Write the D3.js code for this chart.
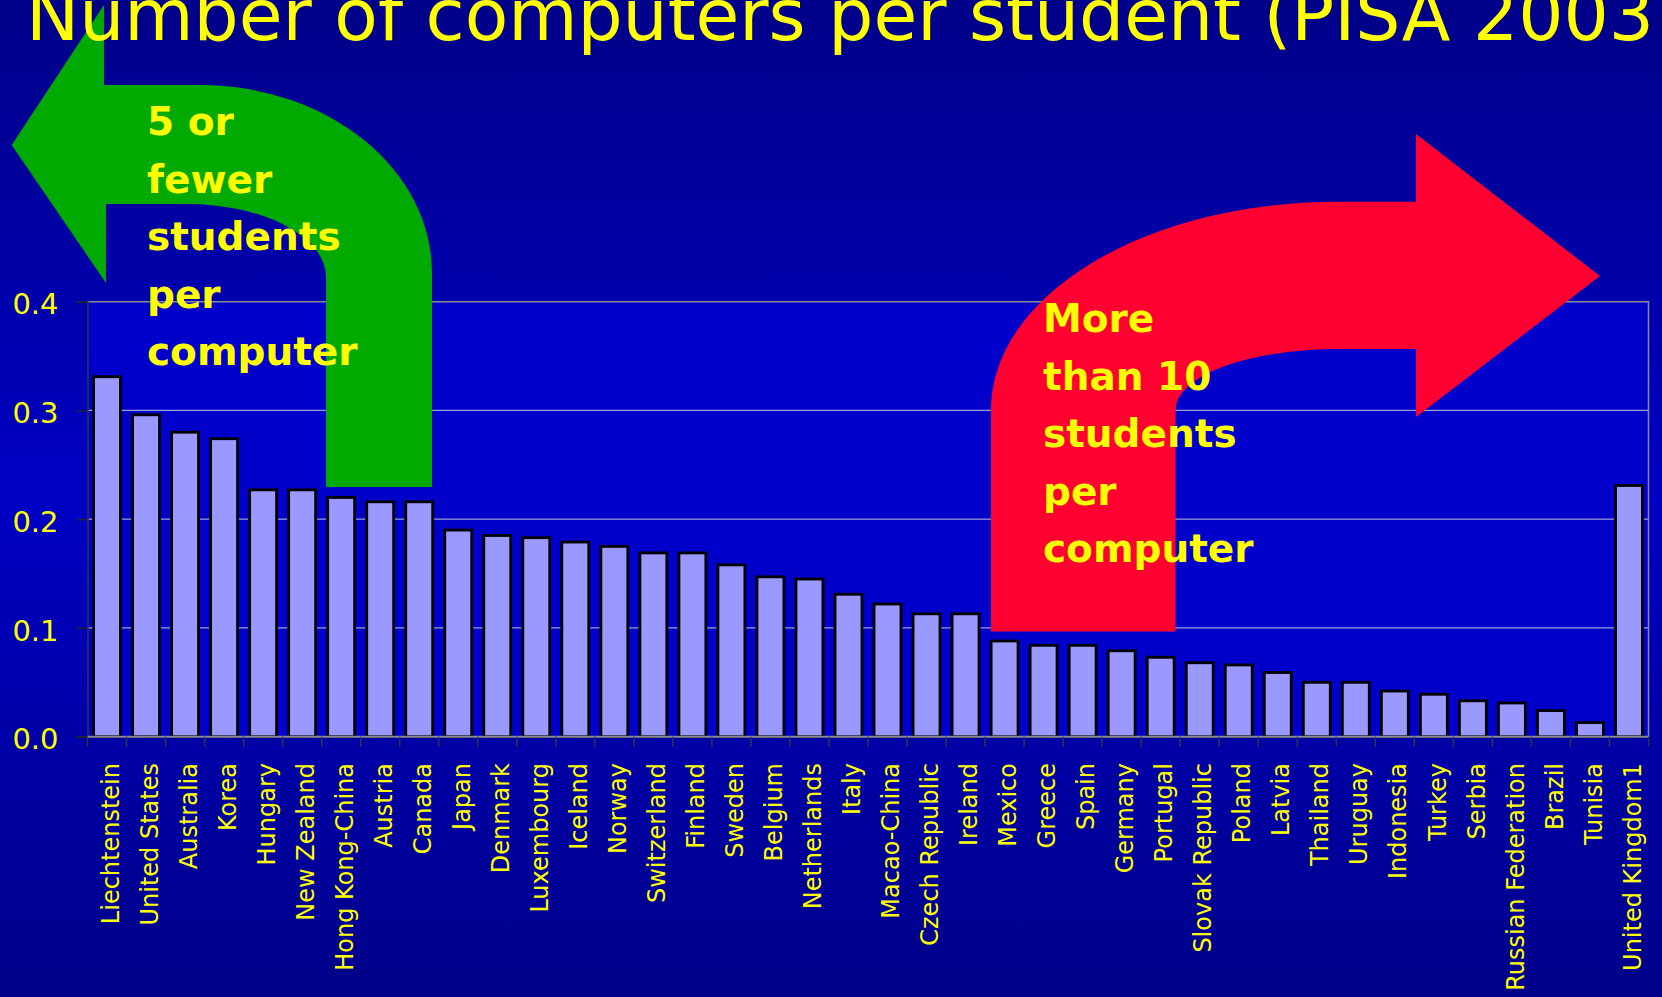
<!DOCTYPE html>
<html>
<head>
<meta charset="utf-8">
<script src="https://cdn.jsdelivr.net/npm/d3@7"></script>
<style>
  html, body { margin: 0; padding: 0; background: #000088; overflow: hidden; }
  svg { display: block; }
</style>
</head>
<body>
<svg id="chart" width="1662" height="997"></svg>
<script>
// ---- Data ----
const categories = [
  "Liechtenstein", "United States", "Australia", "Korea", "Hungary", "New Zealand",
  "Hong Kong-China", "Austria", "Canada", "Japan", "Denmark", "Luxembourg", "Iceland",
  "Norway", "Switzerland", "Finland", "Sweden", "Belgium", "Netherlands", "Italy",
  "Macao-China", "Czech Republic", "Ireland", "Mexico", "Greece", "Spain", "Germany",
  "Portugal", "Slovak Republic", "Poland", "Latvia", "Thailand", "Uruguay", "Indonesia",
  "Turkey", "Serbia", "Russian Federation", "Brazil", "Tunisia", "United Kingdom1"
];
const computersPerStudent = [
  0.331, 0.296, 0.280, 0.274, 0.227, 0.227,
  0.220, 0.216, 0.216, 0.190, 0.185, 0.183, 0.179,
  0.175, 0.169, 0.169, 0.158, 0.147, 0.145, 0.131,
  0.122, 0.113, 0.113, 0.088, 0.084, 0.084, 0.079,
  0.073, 0.068, 0.066, 0.059, 0.050, 0.050, 0.042,
  0.039, 0.033, 0.031, 0.024, 0.013, 0.231
];
const yTickValues = [0.0, 0.1, 0.2, 0.3, 0.4];
const yTickLabels = ["0.0", "0.1", "0.2", "0.3", "0.4"];
const titleText = "Number of computers per student (PISA 2003";
const leftNote = ["5 or", "fewer", "students", "per", "computer"];
const rightNote = ["More", "than 10", "students", "per", "computer"];

// ---- Layout ----
const W = 1662, H = 997;
const plot = { left: 87.5, right: 1648.5, top: 301.7, bottom: 736.7 };
const svg = d3.select("#chart");

// Background gradient
const defs = svg.append("defs");
const grad = defs.append("linearGradient").attr("id", "bg").attr("x1", 0).attr("y1", 0).attr("x2", 0).attr("y2", 1);
grad.append("stop").attr("offset", "0%").attr("stop-color", "#000088");
grad.append("stop").attr("offset", "50%").attr("stop-color", "#0000C4");
grad.append("stop").attr("offset", "100%").attr("stop-color", "#000088");
svg.append("rect").attr("width", W).attr("height", H).attr("fill", "url(#bg)");

// Scales
const x = d3.scaleBand().domain(categories).range([plot.left, plot.right]).paddingInner(0.31).paddingOuter(0.155);
const y = d3.scaleLinear().domain([0, 0.4]).range([plot.bottom, plot.top]);

// Plot area
svg.append("rect")
  .attr("x", plot.left).attr("y", plot.top)
  .attr("width", plot.right - plot.left).attr("height", plot.bottom - plot.top)
  .attr("fill", "#0000CA");

// Gridlines
svg.append("g").selectAll("line").data(yTickValues.filter(v => v > 0 && v < 0.4)).join("line")
  .attr("x1", plot.left).attr("x2", plot.right)
  .attr("y1", d => y(d)).attr("y2", d => y(d))
  .attr("stroke", "#9c9cd8").attr("stroke-width", 1.2);

// Plot border (top & right)
svg.append("path")
  .attr("d", `M${plot.left},${y(0.4)}H${plot.right}V${plot.bottom}`)
  .attr("fill", "none").attr("stroke", "#8a8a9a").attr("stroke-width", 1.5);

// Bars
svg.append("g").selectAll("rect").data(categories).join("rect")
  .attr("x", d => x(d))
  .attr("y", (d, i) => y(computersPerStudent[i]))
  .attr("width", x.bandwidth())
  .attr("height", (d, i) => y(0) - y(computersPerStudent[i]))
  .attr("fill", "#9999FF")
  .attr("stroke", "#000000")
  .attr("stroke-width", 2.8);

// Y axis
const yAxis = d3.axisLeft(y).tickValues(yTickValues).tickSize(11).tickPadding(18)
  .tickFormat((d, i) => yTickLabels[i]);
const gy = svg.append("g").attr("transform", `translate(${plot.left},0)`).call(yAxis);
gy.select(".domain").attr("stroke", "#333344").attr("stroke-width", 1.5);
gy.selectAll(".tick line").attr("stroke", "#222233").attr("stroke-width", 1.5);
gy.selectAll(".tick text")
  .attr("fill", "#FFFF00")
  .attr("font-family", "DejaVu Sans, sans-serif")
  .attr("font-size", 29)
  .attr("dy", "0.42em");

// X axis line and boundary ticks (between categories)
svg.append("line")
  .attr("x1", plot.left).attr("x2", plot.right)
  .attr("y1", y(0)).attr("y2", y(0))
  .attr("stroke", "#8a8a9a").attr("stroke-width", 2);
const step = x.step();
const boundaries = categories.map(c => x(c) - x.paddingOuter() * step);
boundaries.push(plot.right);
svg.append("g").selectAll("line").data(boundaries).join("line")
  .attr("x1", d => d).attr("x2", d => d)
  .attr("y1", y(0)).attr("y2", y(0) + 10)
  .attr("stroke", "#333344").attr("stroke-width", 1.5);

// Category labels (rotated)
svg.append("g").selectAll("text").data(categories).join("text")
  .attr("transform", d => `translate(${x(d) + x.bandwidth() / 2 + 3},763) rotate(-90)`)
  .attr("text-anchor", "end")
  .attr("dy", "0.36em")
  .attr("fill", "#FFFF00")
  .attr("font-family", "DejaVu Sans, sans-serif")
  .attr("font-size", 24)
  .text(d => d);

// Green curved arrow (points left)
const greenPath = [
  "M11.7,145", "L104,5", "L104,85", "L200,85",
  "A232,188 0 0 1 432,273", "L432,487", "L326,487", "L326,277",
  "A139,73 0 0 0 187,204", "L106,204", "L106,283", "Z"
].join(" ");
svg.append("path").attr("d", greenPath).attr("fill", "#00AA00");

// Red curved arrow (points right)
const redPath = [
  "M1600,276", "L1416,134", "L1416,201.7", "L1337,201.7",
  "A346,208 0 0 0 991,410", "L991,631.5", "L1175.5,631.5", "L1175.5,410",
  "A161.5,61 0 0 1 1337,349", "L1416,349", "L1416,417", "Z"
].join(" ");
svg.append("path").attr("d", redPath).attr("fill", "#FF0030");

// Title (top cut off by the slide edge, as in the reference)
svg.append("text")
  .attr("x", 26).attr("y", 40)
  .attr("textLength", 1628).attr("lengthAdjust", "spacingAndGlyphs")
  .attr("fill", "#FFFF00")
  .attr("font-family", "DejaVu Sans, sans-serif")
  .attr("font-size", 72)
  .text(titleText);

// Arrow notes
function note(lines, x0, y0) {
  svg.append("g").selectAll("text").data(lines).join("text")
    .attr("x", x0).attr("y", (d, i) => y0 + i * 57.6)
    .attr("fill", "#FFFF00")
    .attr("font-family", "DejaVu Sans, sans-serif")
    .attr("font-weight", "bold")
    .attr("font-size", 39)
    .text(d => d);
}
note(leftNote, 147, 135);
note(rightNote, 1043, 332);
</script>
</body>
</html>
